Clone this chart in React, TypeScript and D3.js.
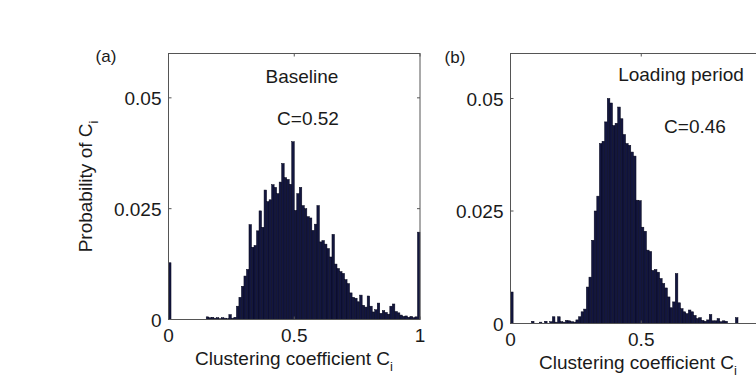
import React from "react";
import * as d3 from "d3";

// ---- data ----
const binWidth = 0.01;

// Panel (a) Baseline: probability per bin of width 0.01, from C=0 to C=1
const baselineProb: number[] = [
  0.0128, 0, 0, 0, 0, 0, 0, 0, 0, 0,
  0, 0, 0, 0, 0, 0.0006, 0.0004, 0.0005, 0.0003, 0.0004,
  0.0002, 0.0004, 0.0003, 0.0002, 0.0011, 0.0003, 0.0005, 0.003, 0.005, 0.0075,
  0.0098, 0.0113, 0.0214, 0.0163, 0.0167, 0.02, 0.0245, 0.0208, 0.0292, 0.0266,
  0.027, 0.0304, 0.0298, 0.0284, 0.031, 0.0352, 0.032, 0.0316, 0.0305, 0.0401,
  0.0246, 0.0284, 0.0298, 0.0257, 0.025, 0.0232, 0.0229, 0.0201, 0.0215, 0.0257,
  0.0175, 0.0178, 0.017, 0.016, 0.0141, 0.0192, 0.0125, 0.0115, 0.0108, 0.0104,
  0.009, 0.0081, 0.006, 0.005, 0.0048, 0.004, 0.0055, 0.0032, 0.0028, 0.0053,
  0.003, 0.0017, 0.0022, 0.0037, 0.0014, 0.002, 0.0016, 0.0012, 0.003, 0.0035,
  0.0018, 0.0015, 0.001, 0.0007, 0.0008, 0.0005, 0.0007, 0.0004, 0.0006, 0.0197,
];

// Panel (b) Loading period
const loadingProb: number[] = [
  0.007, 0, 0, 0, 0, 0, 0, 0, 0.0005, 0,
  0, 0.0003, 0, 0.0005, 0, 0.0004, 0.0015, 0.0003, 0.0015, 0.0004,
  0.0003, 0.0007, 0.0006, 0.0004, 0.0003, 0.0008, 0.0015, 0.0026, 0.0032, 0.0081,
  0.0103, 0.0185, 0.025, 0.0283, 0.04, 0.0405, 0.0448, 0.05, 0.049, 0.044,
  0.0445, 0.0481, 0.0455, 0.042, 0.04, 0.0396, 0.0381, 0.0372, 0.0274, 0.0273,
  0.0214, 0.0205, 0.0163, 0.016, 0.0118, 0.012, 0.0114, 0.01, 0.0089, 0.0079,
  0.0059, 0.0035, 0.0048, 0.0111, 0.0046, 0.0033, 0.0026, 0.0022, 0.003, 0.0026,
  0.0018, 0.0011, 0.0013, 0.0007, 0.0005, 0.0008, 0.002, 0.0006, 0.0006, 0.0011,
  0.0004, 0.0006, 0.0005, 0, 0, 0, 0.0013, 0, 0, 0,
  0, 0, 0, 0, 0, 0, 0, 0, 0, 0,
];

const xDomain: [number, number] = [0, 1];
const yDomain: [number, number] = [0, 0.06];
const xTicks = [0, 0.5, 1];
const xTickLabels = ["0", "0.5", "1"];
const yTicks = [0, 0.025, 0.05];
const yTickLabels = ["0", "0.025", "0.05"];

const panelLetters = ["(a)", "(b)"];
const panelTitles = ["Baseline", "Loading period"];
const panelMeanC = ["C=0.52", "C=0.46"];
const xLabelText = "Clustering coefficient C";
const yLabelText = "Probability of C";
const subscript = "i";

const FONT = "'Liberation Sans', Arial, Helvetica, sans-serif";
const BAR_FILL = "#13163f";
const AXIS = "#555";
const TEXT = "#1a1a1a";
const VIEW_W = 756;

type Layout = {
  left: number;
  right: number;
  top: number;
  bottom: number;
  letter: [number, number];
  title: [number, number];
  mean: [number, number];
  xLabelX: number;
  yLabel: boolean;
};

const layouts: Layout[] = [
  { left: 168.5, right: 420, top: 53.5, bottom: 319.5, letter: [106, 62], title: [302, 83], mean: [308, 125], xLabelX: 294, yLabel: true },
  { left: 510.5, right: 772, top: 53.5, bottom: 323.5, letter: [455, 63], title: [681, 81], mean: [695, 133], xLabelX: 638, yLabel: false },
];

function Panel({ data, idx }: { data: number[]; idx: number }) {
  const L = layouts[idx];
  const x = d3.scaleLinear().domain(xDomain).range([L.left, L.right]);
  const y = d3.scaleLinear().domain(yDomain).range([L.bottom, L.top]);
  const tickLen = 3;
  return (
    <g>
      {data.map((v, i) => {
        if (v <= 0) return null;
        const x0 = x(i * binWidth);
        const x1 = x((i + 1) * binWidth);
        return (
          <rect
            key={i}
            x={x0}
            y={y(v)}
            width={x1 - x0}
            height={y(0) - y(v)}
            fill={BAR_FILL}
            stroke="#05061a"
            strokeWidth={0.5}
          />
        );
      })}
      <rect
        x={L.left}
        y={L.top}
        width={L.right - L.left}
        height={L.bottom - L.top}
        fill="none"
        stroke={AXIS}
        strokeWidth={1}
      />
      {xTicks.map((t, i) => (
        <g key={"xt" + i}>
          <line x1={x(t)} x2={x(t)} y1={L.bottom} y2={L.bottom - tickLen} stroke={AXIS} />
          <line x1={x(t)} x2={x(t)} y1={L.top} y2={L.top + tickLen} stroke={AXIS} />
          {x(t) + 6 < VIEW_W && (
            <text
              x={x(t)}
              y={L.bottom + 22}
              textAnchor="middle"
              fontFamily={FONT}
              fontSize={19}
              fill={TEXT}
            >
              {xTickLabels[i]}
            </text>
          )}
        </g>
      ))}
      {yTicks.map((t, i) => (
        <g key={"yt" + i}>
          <line x1={L.left} x2={L.left + tickLen} y1={y(t)} y2={y(t)} stroke={AXIS} />
          <line x1={L.right} x2={L.right - tickLen} y1={y(t)} y2={y(t)} stroke={AXIS} />
          <text
            x={L.left - 7}
            y={y(t) + 7}
            textAnchor="end"
            fontFamily={FONT}
            fontSize={19}
            fill={TEXT}
          >
            {yTickLabels[i]}
          </text>
        </g>
      ))}
      <text
        x={L.xLabelX}
        y={L.bottom + 45}
        textAnchor="middle"
        fontFamily={FONT}
        fontSize={19}
        fill={TEXT}
      >
        {xLabelText}
        <tspan fontSize={13} dy={6}>
          {subscript}
        </tspan>
      </text>
      {L.yLabel && (
        <text
          transform={`translate(92,${(L.top + L.bottom) / 2}) rotate(-90)`}
          textAnchor="middle"
          fontFamily={FONT}
          fontSize={19}
          fill={TEXT}
        >
          {yLabelText}
          <tspan fontSize={13} dy={6}>
            {subscript}
          </tspan>
        </text>
      )}
      <text x={L.letter[0]} y={L.letter[1]} textAnchor="middle" fontFamily={FONT} fontSize={17} fill={TEXT}>
        {panelLetters[idx]}
      </text>
      <text x={L.title[0]} y={L.title[1]} textAnchor="middle" fontFamily={FONT} fontSize={19} fill={TEXT}>
        {panelTitles[idx]}
      </text>
      <text x={L.mean[0]} y={L.mean[1]} textAnchor="middle" fontFamily={FONT} fontSize={19} fill={TEXT}>
        {panelMeanC[idx]}
      </text>
    </g>
  );
}

export default function App() {
  return (
    <svg
      width={756}
      height={377}
      viewBox="0 0 756 377"
      style={{ position: "absolute", left: 0, top: 0, background: "#fff" }}
    >
      <rect x={0} y={0} width={756} height={377} fill="#fff" />
      <Panel data={baselineProb} idx={0} />
      <Panel data={loadingProb} idx={1} />
    </svg>
  );
}
